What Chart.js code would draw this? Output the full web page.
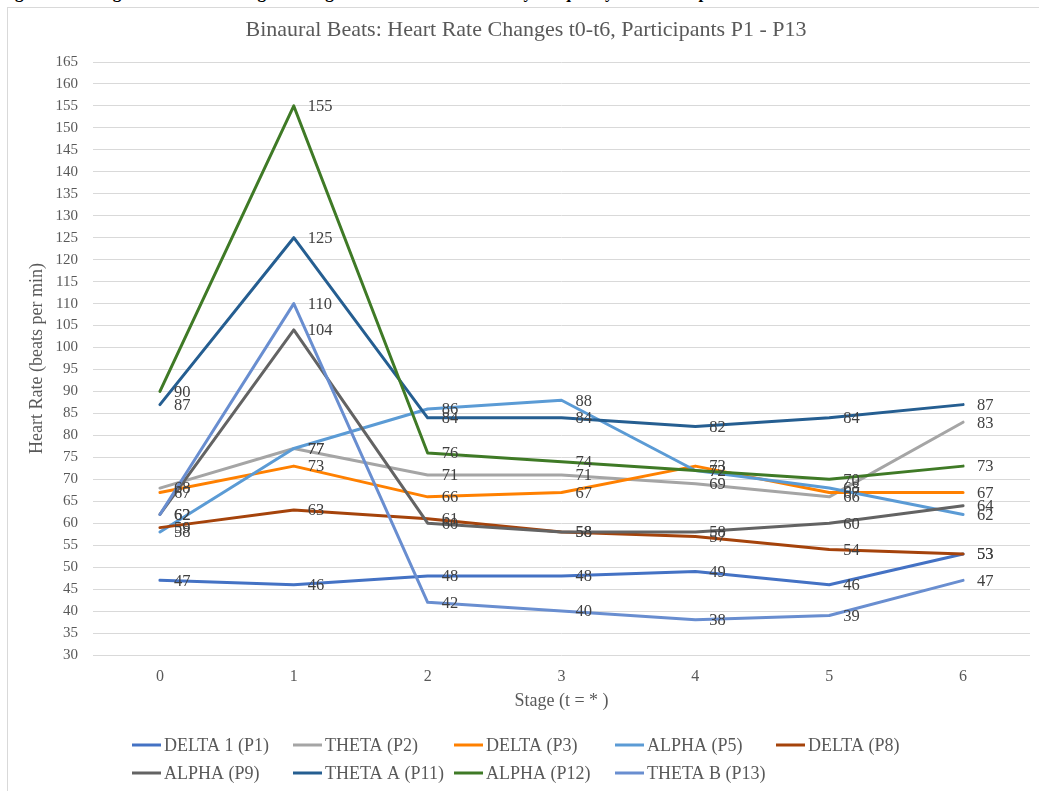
<!DOCTYPE html>
<html>
<head>
<meta charset="utf-8">
<script src="https://cdn.jsdelivr.net/npm/chart.js@4.4.1/dist/chart.umd.min.js"></script>
<style>
html,body{margin:0;padding:0;background:#fff;overflow:hidden;}
#wrap{position:relative;width:1039px;height:791px;}
#frame{position:absolute;left:7px;top:7px;width:1100px;height:900px;border:1px solid #d9d9d9;}
#caption{position:absolute;left:0;top:-17px;font:bold 17px "Liberation Serif",serif;color:#000;white-space:nowrap;}
canvas{position:absolute;left:0;top:0;}
</style>
</head>
<body>
<div id="wrap">
    <div id="caption">Figure 2: Average Heart Rate Changes during Binaural Beats Sessions by Frequency and Participant</div>
    <div id="frame"></div>
    <canvas id="chart" width="1039" height="791"></canvas>
</div>
<script>
/*========== Data ==========*/

const stages=["0","1","2","3","4","5","6"];

const seriesNames=["DELTA 1 (P1)","THETA (P2)","DELTA (P3)","ALPHA (P5)","DELTA (P8)","ALPHA (P9)","THETA A (P11)","ALPHA (P12)","THETA B (P13)"];

const delta1P1=[47,46,48,48,49,46,53];
const thetaP2=[68,77,71,71,69,66,83];
const deltaP3=[67,73,66,67,73,67,67];
const alphaP5=[58,77,86,88,72,68,62];
const deltaP8=[59,63,61,58,57,54,53];
const alphaP9=[62,104,60,58,58,60,64];
const thetaAP11=[87,125,84,84,82,84,87];
const alphaP12=[90,155,76,74,72,70,73];
const thetaBP13=[62,110,42,40,38,39,47];

const seriesValues=[delta1P1,thetaP2,deltaP3,alphaP5,deltaP8,alphaP9,thetaAP11,alphaP12,thetaBP13];
const seriesColors=["#4472C4","#A5A5A5","#FF8000","#5B9BD5","#A5430B","#636363","#255E91","#3F7A26","#698ED0"];

const SERIF='"Liberation Serif","Times New Roman",serif';

/*========== Plugins ==========*/

const valueLabels={
    id:"valueLabels",
    afterDatasetsDraw(chart){
        const ctx=chart.ctx;
        ctx.save();
        ctx.font="16.5px "+SERIF;
        ctx.fillStyle="#404040";
        ctx.textAlign="left";
        ctx.textBaseline="middle";
        chart.data.datasets.forEach((ds,i)=>{
            chart.getDatasetMeta(i).data.forEach((pt,j)=>{
                ctx.fillText(ds.data[j],pt.x+14,pt.y+1);
            });
        });
        ctx.restore();
    }
};

const gridLegend={
    id:"gridLegend",
    afterDraw(chart){
        const ctx=chart.ctx;
        ctx.save();
        ctx.font="18px "+SERIF;
        ctx.fillStyle="#595959";
        ctx.textAlign="left";
        ctx.textBaseline="middle";
        chart.data.datasets.forEach((ds,i)=>{
            const x=132+(i%5)*161;
            const y=745+Math.floor(i/5)*28;
            ctx.strokeStyle=ds.borderColor;
            ctx.lineWidth=3;
            ctx.beginPath();
            ctx.moveTo(x,y);
            ctx.lineTo(x+29,y);
            ctx.stroke();
            ctx.fillText(ds.label,x+32,y+1);
        });
        ctx.restore();
    }
};

/*========== Chart ==========*/

const datasets=seriesNames.map((name,i)=>({
    label:name,
    data:seriesValues[i],
    borderColor:seriesColors[i],
    backgroundColor:seriesColors[i],
    borderWidth:3,
    pointRadius:0,
    tension:0,
    fill:false,
    borderJoinStyle:"round",
    borderCapStyle:"round",
    order:seriesNames.length-i
}));

new Chart(document.getElementById("chart"),{
    type:"line",
    data:{labels:stages,datasets},
    options:{
        responsive:false,
        animation:false,
        layout:{padding:{left:22,right:9,top:0,bottom:75}},
        plugins:{
            legend:{display:false},
            tooltip:{enabled:false},
            title:{
                display:true,
                text:"Binaural Beats: Heart Rate Changes t0-t6, Participants P1 - P13",
                color:"#595959",
                font:{family:SERIF,size:22,weight:"normal"},
                padding:{top:16.8,bottom:18.8}
            }
        },
        scales:{
            x:{
                offset:true,
                grid:{display:false,drawTicks:false},
                border:{display:false},
                ticks:{color:"#595959",font:{family:SERIF,size:16},padding:12},
                title:{display:true,text:"Stage (t = * )",color:"#595959",font:{family:SERIF,size:18}},
                afterFit(s){s.height=61;}
            },
            y:{
                min:30,
                max:165,
                grid:{color:"#d9d9d9",lineWidth:1,drawTicks:false},
                border:{display:false},
                ticks:{stepSize:5,color:"#595959",font:{family:SERIF,size:15},padding:15},
                title:{display:true,text:"Heart Rate (beats per min)",color:"#595959",font:{family:SERIF,size:18}},
                afterFit(s){s.width=71;}
            }
        }
    },
    plugins:[valueLabels,gridLegend]
});
</script>
</body>
</html>
